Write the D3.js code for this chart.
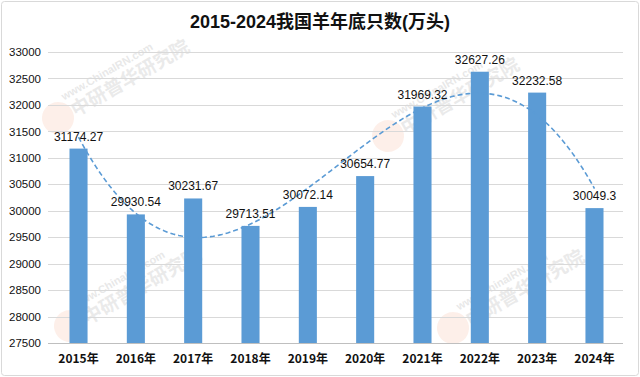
<!DOCTYPE html>
<html>
<head>
<meta charset="utf-8">
<script src="https://d3js.org/d3.v7.min.js"></script>
<style>
  body { margin: 0; background: #fff; }
  text { font-family: "Liberation Sans", "Noto Sans CJK SC", sans-serif; }
</style>
</head>
<body>
<svg class="target" width="640" height="377"></svg>
<script>

// data
years = ['2015年','2016年','2017年','2018年','2019年','2020年','2021年','2022年','2023年','2024年']
values = [31174.27, 29930.54, 30231.67, 29713.51, 30072.14, 30654.77, 31969.32, 32627.26, 32232.58, 30049.3]
labels = ['31174.27','29930.54','30231.67','29713.51','30072.14','30654.77','31969.32','32627.26','32232.58','30049.3']
yTicks = [27500, 28000, 28500, 29000, 29500, 30000, 30500, 31000, 31500, 32000, 32500, 33000]

width = 640
height = 377
margin = ({ top: 52, right: 17, bottom: 34, left: 50 })

const svg = d3.select('.target')

// outer frame
svg.append('rect')
    .attr('x', 1.5).attr('y', 1.5)
    .attr('width', width - 3).attr('height', height - 3)
    .attr('rx', 3)
    .attr('fill', '#fff')
    .attr('stroke', '#d9d9d9')

xScale = d3.scaleBand(years, [margin.left, width - margin.right])
    .paddingInner(0.685).paddingOuter(0.34)

yScale = d3.scaleLinear([27500, 33000], [height - margin.bottom, margin.top])

// faint watermarks: logo circle + site + name, rotated
const marks = [[58, 118], [388, 136], [70, 326], [453, 328]]
const wm = svg.append('g')
marks.forEach(([x, y]) => {
  const g = wm.append('g').attr('transform', `translate(${x},${y}) rotate(-30)`)
  g.append('circle').attr('cx', 0).attr('cy', 0).attr('r', 16)
    .attr('fill', '#f07a4a').attr('opacity', 0.12)
  g.append('text').attr('x', 14).attr('y', -12).attr('font-size', 11).attr('font-weight', 'bold')
    .attr('fill', '#999').attr('opacity', 0.22).text('www.ChinaIRN.com')
  g.append('text').attr('x', 16).attr('y', 8).attr('font-size', 19).attr('font-weight', 'bold')
    .attr('fill', '#999').attr('opacity', 0.2).text('中研普华研究院')
})

// gridlines
svg.append('g')
  .selectAll('line')
  .data(yTicks)
  .join('line')
    .attr('x1', margin.left - 2)
    .attr('x2', width - margin.right)
    .attr('y1', d => Math.round(yScale(d)) + 0.5)
    .attr('y2', d => Math.round(yScale(d)) + 0.5)
    .attr('stroke', d => d === 27500 ? '#bfbfbf' : '#d9d9d9')

// y axis labels
yAxis = d3.axisLeft(yScale).tickValues(yTicks).tickSize(0).tickPadding(9).tickFormat(d => d)
svg.append('g')
    .attr('transform', `translate(${margin.left},0)`)
    .call(yAxis)
    .call(g => g.select('.domain').remove())
    .call(g => g.selectAll('text')
      .attr('font-size', 11.5).attr('fill', '#111')
      .style('font-family', '"Liberation Sans Narrow", "Liberation Sans", sans-serif'))

// x axis labels
xAxis = d3.axisBottom(xScale).tickSize(0).tickPadding(11)
svg.append('g')
    .attr('transform', `translate(0,${height - margin.bottom})`)
    .call(xAxis)
    .call(g => g.select('.domain').remove())
    .call(g => g.selectAll('text')
      .attr('font-size', 12).attr('font-weight', 'bold').attr('fill', '#111')
      .style('font-family', '"Liberation Sans Narrow", "Noto Sans CJK SC", sans-serif'))

// bars
svg.append('g')
  .selectAll('rect')
  .data(values)
  .join('rect')
    .attr('x', (d, i) => xScale(years[i]))
    .attr('y', d => yScale(d))
    .attr('width', xScale.bandwidth())
    .attr('height', d => yScale(27500) - yScale(d))
    .attr('fill', '#5b9bd5')

// polynomial trendline (least squares fit of the bar values)
function polyfit(xs, ys, order) {
  const n = order + 1
  const A = Array.from({ length: n }, () => new Array(n + 1).fill(0))
  for (let r = 0; r < n; r++) {
    for (let c = 0; c < n; c++) A[r][c] = d3.sum(xs, x => Math.pow(x, r + c))
    A[r][n] = d3.sum(xs, (x, k) => ys[k] * Math.pow(x, r))
  }
  for (let i = 0; i < n; i++) {
    let p = i
    for (let k = i + 1; k < n; k++) if (Math.abs(A[k][i]) > Math.abs(A[p][i])) p = k
    ;[A[i], A[p]] = [A[p], A[i]]
    for (let k = 0; k < n; k++) {
      if (k === i) continue
      const f = A[k][i] / A[i][i]
      for (let c = i; c <= n; c++) A[k][c] -= f * A[i][c]
    }
  }
  return A.map((row, i) => row[n] / row[i])
}
const xs = values.map((d, i) => i - 4.5)
const coef = polyfit(xs, values, 3)
const trend = d3.range(0, 9.001, 0.05).map(t => {
  const x = t - 4.5
  return [t, d3.sum(coef, (c, k) => c * Math.pow(x, k))]
})
const xc = t => xScale(years[0]) + xScale.bandwidth() / 2 + t * xScale.step()
svg.append('path')
    .datum(trend)
    .attr('fill', 'none')
    .attr('stroke', '#5b9bd5')
    .attr('stroke-width', 1.6)
    .attr('stroke-dasharray', '5,3')
    .attr('d', d3.line().x(d => xc(d[0])).y(d => yScale(d[1])))

// data labels
svg.append('g')
  .selectAll('text')
  .data(values)
  .join('text')
    .attr('x', (d, i) => xScale(years[i]) + xScale.bandwidth() / 2)
    .attr('y', d => yScale(d) - 8)
    .attr('text-anchor', 'middle')
    .attr('font-size', 12)
    .attr('fill', '#111')
    .text((d, i) => labels[i])

// title
svg.append('text')
    .attr('x', width / 2)
    .attr('y', 28)
    .attr('text-anchor', 'middle')
    .attr('font-size', 18)
    .attr('font-weight', 'bold')
    .attr('fill', '#111')
    .text('2015-2024我国羊年底只数(万头)')

</script>
</body>
</html>
